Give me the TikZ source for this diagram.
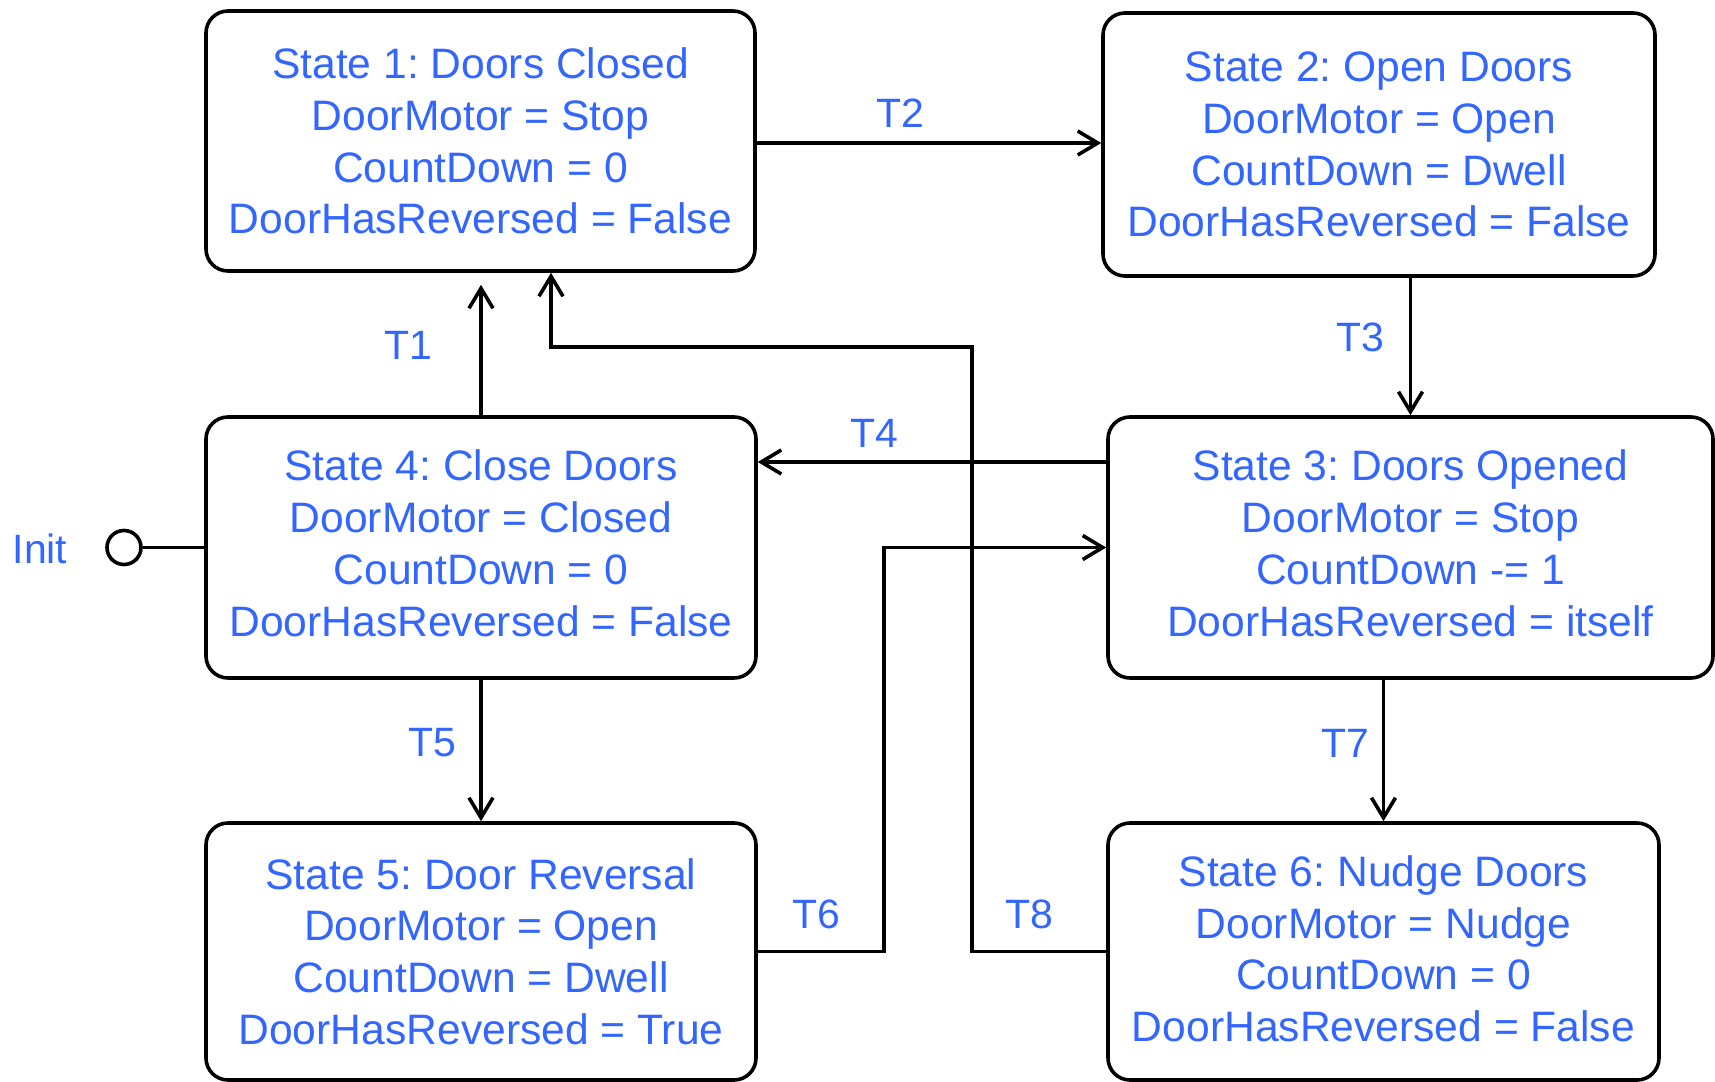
\documentclass[tikz,border=0pt]{standalone}
\usepackage{fontspec}
\setmainfont{Liberation Sans}
\usepackage{tikz}
\usetikzlibrary{arrows.meta}
\definecolor{doorblue}{RGB}{51,102,255}
\frenchspacing

\begin{document}
\begin{tikzpicture}[x=1pt, y=-1pt,
  state/.style={rectangle, draw=black, line width=3.6pt, rounded corners=22pt, inner sep=0pt,
    align=center, text=doorblue, font=\fontsize{42.6}{51.8}\selectfont},
  trans/.style={draw=black, line width=3.6pt, -{Straight Barb[length=20pt,width=24pt]}},
  tlabel/.style={text=doorblue, font=\fontsize{41}{48}\selectfont}]
\useasboundingbox (0,0) rectangle (1715,1081);

% states
\node[state, minimum width=549pt, minimum height=260pt] (S1) at (480.5,141) {
State 1: Doors Closed\\
DoorMotor = Stop\\
CountDown = 0\\
DoorHasReversed = False};
\node[state, minimum width=552pt, minimum height=263pt] (S2) at (1379,144.5) {
State 2: Open Doors\\
DoorMotor = Open\\
CountDown = Dwell\\
DoorHasReversed = False};
\node[state, minimum width=605pt, minimum height=261pt, text depth=9pt] (S3) at (1410.5,547.5) {
State 3: Doors Opened\\
DoorMotor = Stop\\
CountDown -= 1\\
DoorHasReversed = itself};
\node[state, minimum width=550pt, minimum height=261pt, text depth=9pt] (S4) at (481,547.5) {
State 4: Close Doors\\
DoorMotor = Closed\\
CountDown = 0\\
DoorHasReversed = False};
\node[state, minimum width=550pt, minimum height=257pt] (S5) at (481,951.5) {
State 5: Door Reversal\\
DoorMotor = Open\\
CountDown = Dwell\\
DoorHasReversed = True};
\node[state, minimum width=551pt, minimum height=257pt, text depth=6pt] (S6) at (1383.5,951.5) {
State 6: Nudge Doors\\
DoorMotor = Nudge\\
CountDown = 0\\
DoorHasReversed = False};

% initial state
\node[circle, draw=black, line width=3.6pt, minimum size=34pt, inner sep=0pt] (init) at (124,547.5) {};
\node[tlabel] (initlabel) at (40,549) {Init};
\draw[line width=3.6pt] (init) -- (S4.west);

% transitions
\coordinate (T8bend) at (972,347);
\draw[trans, shorten >=12pt] (S4.north) -- (S4.north |- S1.south);
\draw[trans] ([yshift=-2pt]S1.east) -- ([yshift=-2pt]S1.east -| S2.west);
\draw[trans] (S3.north |- S2.south) -- (S3.north);
\draw[trans] ([yshift=85.5pt]S3.west) -- ([yshift=85.5pt]S3.west -| S4.east);
\draw[trans] (S4.south) -- (S5.north);
\draw[trans] (S5.east) -- ++(126,0) |- (S3.west);
\draw[trans] (S6.north |- S3.south) -- (S6.north);
\draw[trans] (S6.west) -| (T8bend) -| ([xshift=70.5pt]S1.south);

\node[tlabel] (T1) at (408,345) {T1};
\node[tlabel] (T2) at (900,113) {T2};
\node[tlabel] (T3) at (1360,337) {T3};
\node[tlabel] (T4) at (874,433) {T4};
\node[tlabel] (T5) at (432,743) {T5};
\node[tlabel] (T6) at (816,914) {T6};
\node[tlabel] (T7) at (1345,743) {T7};
\node[tlabel] (T8) at (1029,914) {T8};
\end{tikzpicture}
\end{document}
